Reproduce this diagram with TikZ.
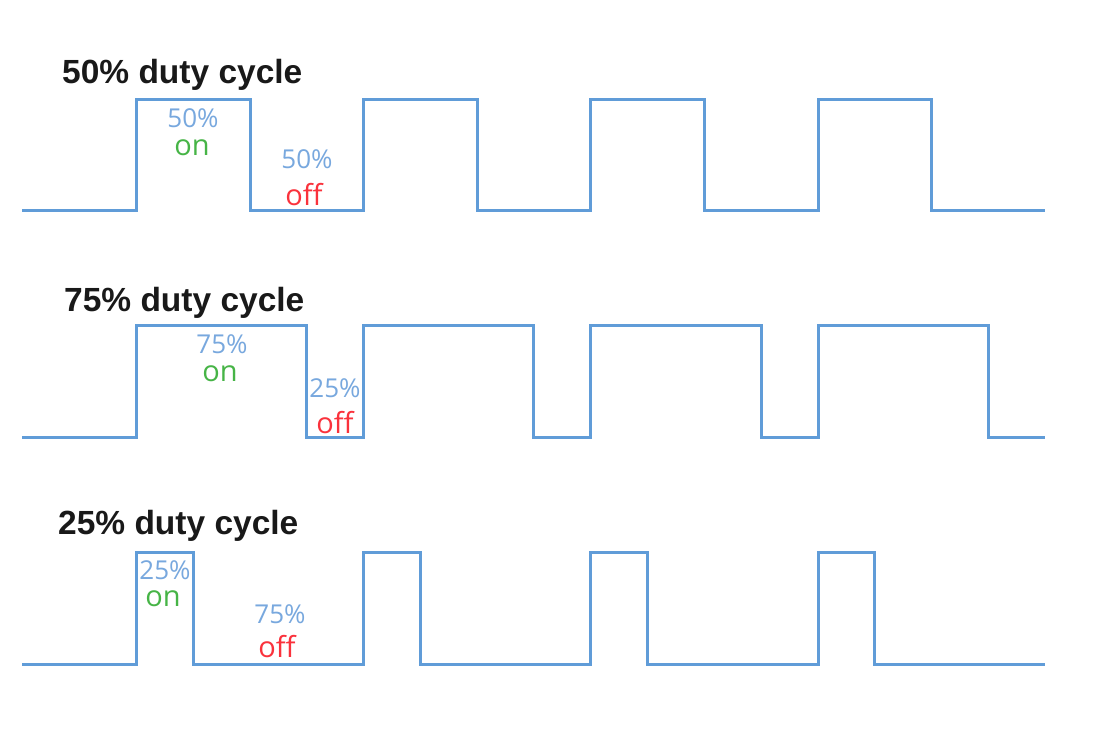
\documentclass[tikz,border=0pt]{standalone}
\usepackage{fontspec}
\newfontfamily\titlefont{Liberation Sans}
\newfontfamily\lblfont{Open Sans}
\definecolor{wave}{RGB}{96,156,216}
\definecolor{pct}{RGB}{120,168,222}
\definecolor{ongreen}{RGB}{70,180,70}
\definecolor{offred}{RGB}{250,50,60}
\begin{document}
\begin{tikzpicture}[x=1pt,y=-1pt,
  wavestyle/.style={draw=wave,line width=3pt,line join=miter},
  title/.style={anchor=base west,inner sep=0pt,font=\titlefont\bfseries\fontsize{33.5}{37}\selectfont,text=black!90},
  pctlbl/.style={anchor=base,inner sep=0pt,font=\lblfont\fontsize{26}{30}\selectfont,text=pct},
  onlbl/.style={anchor=base,inner sep=0pt,font=\lblfont\fontsize{29}{33}\selectfont,text=ongreen},
  offlbl/.style={anchor=base,inner sep=0pt,font=\lblfont\fontsize{29}{33}\selectfont,text=offred}]
\useasboundingbox[fill=white] (0,0) rectangle (1108,732);
% row 1: 50%
\node[title] (t1) at (62,83) {50\% duty cycle};
\draw[wavestyle] (22,210) -| (136,99) -| (250,210) -| (363,99) -| (477,210) -| (590,99) -| (704,210) -| (818,99) -| (931,210) -- (1045,210);
\node[pctlbl] (p1a) at (193,127) {50\%};
\node[onlbl] (o1) at (192,155) {on};
\node[pctlbl] (p1b) at (307,168) {50\%};
\node[offlbl] (f1) at (304,205) {off};
% row 2: 75%
\node[title] (t2) at (64,311) {75\% duty cycle};
\draw[wavestyle] (22,437) -| (136,325) -| (306,437) -| (363,325) -| (533,437) -| (590,325) -| (761,437) -| (818,325) -| (988,437) -- (1045,437);
\node[pctlbl] (p2a) at (222,353) {75\%};
\node[onlbl] (o2) at (220,381) {on};
\node[pctlbl] (p2b) at (335,397) {25\%};
\node[offlbl] (f2) at (335,433) {off};
% row 3: 25%
\node[title] (t3) at (58,534) {25\% duty cycle};
\draw[wavestyle] (22,664) -| (136,552) -| (193,664) -| (363,552) -| (420,664) -| (590,552) -| (647,664) -| (818,552) -| (874,664) -- (1045,664);
\node[pctlbl] (p3a) at (165,579) {25\%};
\node[onlbl] (o3) at (163,606) {on};
\node[pctlbl] (p3b) at (280,623) {75\%};
\node[offlbl] (f3) at (277,657) {off};
\end{tikzpicture}
\end{document}
